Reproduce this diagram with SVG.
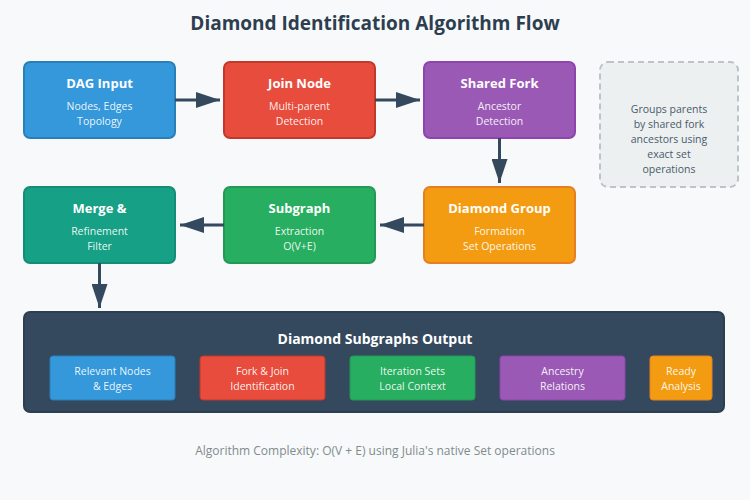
<svg xmlns="http://www.w3.org/2000/svg" width="750" height="500" viewBox="0 0 750 500">
<defs>
<style>
text{font-family:"Open Sans","Noto Sans","DejaVu Sans",sans-serif;text-anchor:middle}
.title{font-size:19px;font-weight:bold;fill:#2c3e50}
.h{font-size:13px;font-weight:bold;fill:#fff}
.s{font-size:10.5px;fill:#fff;fill-opacity:0.92}
.n{font-size:10.5px;fill:#4a5a6a}
.foot{font-size:12px;fill:#7f8c8d}
.box{stroke-width:2}
.conn{stroke:#34495e;stroke-width:3;fill:none}
</style>
<marker id="ah" markerWidth="24" markerHeight="16" refX="24" refY="8" orient="auto" markerUnits="userSpaceOnUse">
<path d="M0,0 L24,8 L0,16 Z" fill="#34495e"/>
</marker>
</defs>
<rect width="750" height="500" fill="#f8f9fa"/>
<text class="title" x="375" y="30">Diamond Identification Algorithm Flow</text>

<g id="dag-input">
<rect class="box" x="24" y="62" width="151" height="76" rx="6" fill="#3498db" stroke="#2980b9"/>
<text class="h" x="99.5" y="88">DAG Input</text>
<text class="s" x="99.5" y="110">Nodes, Edges</text>
<text class="s" x="99.5" y="125">Topology</text>
</g>
<g id="join-node">
<rect class="box" x="224" y="62" width="151" height="76" rx="6" fill="#e74c3c" stroke="#c0392b"/>
<text class="h" x="299.5" y="88">Join Node</text>
<text class="s" x="299.5" y="110">Multi-parent</text>
<text class="s" x="299.5" y="125">Detection</text>
</g>
<g id="shared-fork">
<rect class="box" x="424" y="62" width="151" height="76" rx="6" fill="#9b59b6" stroke="#8e44ad"/>
<text class="h" x="499.5" y="88">Shared Fork</text>
<text class="s" x="499.5" y="110">Ancestor</text>
<text class="s" x="499.5" y="125">Detection</text>
</g>
<g id="note">
<rect x="600" y="62" width="138" height="125" rx="8" fill="#ecf0f1" stroke="#bdc3c7" stroke-width="2" stroke-dasharray="6,4"/>
<text class="n" x="669" y="113">Groups parents</text>
<text class="n" x="669" y="128">by shared fork</text>
<text class="n" x="669" y="143">ancestors using</text>
<text class="n" x="669" y="158">exact set</text>
<text class="n" x="669" y="173">operations</text>
</g>
<g id="merge">
<rect class="box" x="24" y="187" width="151" height="76" rx="6" fill="#16a085" stroke="#138d75"/>
<text class="h" x="99.5" y="213">Merge &amp;</text>
<text class="s" x="99.5" y="235">Refinement</text>
<text class="s" x="99.5" y="250">Filter</text>
</g>
<g id="subgraph">
<rect class="box" x="224" y="187" width="151" height="76" rx="6" fill="#27ae60" stroke="#229954"/>
<text class="h" x="299.5" y="213">Subgraph</text>
<text class="s" x="299.5" y="235">Extraction</text>
<text class="s" x="299.5" y="250">O(V+E)</text>
</g>
<g id="diamond-group">
<rect class="box" x="424" y="187" width="151" height="76" rx="6" fill="#f39c12" stroke="#e67e22"/>
<text class="h" x="499.5" y="213">Diamond Group</text>
<text class="s" x="499.5" y="235">Formation</text>
<text class="s" x="499.5" y="250">Set Operations</text>
</g>

<g id="connectors">
<line class="conn" x1="175" y1="100" x2="220" y2="100" marker-end="url(#ah)"/>
<line class="conn" x1="375" y1="100" x2="420" y2="100" marker-end="url(#ah)"/>
<line class="conn" x1="499.5" y1="138" x2="499.5" y2="183" marker-end="url(#ah)"/>
<line class="conn" x1="424" y1="225" x2="380" y2="225" marker-end="url(#ah)"/>
<line class="conn" x1="224" y1="225" x2="180" y2="225" marker-end="url(#ah)"/>
<line class="conn" x1="99.5" y1="263" x2="99.5" y2="308" marker-end="url(#ah)"/>
</g>

<g id="output">
<rect x="24" y="312" width="700" height="100" rx="6" fill="#34495e" stroke="#2c3e50" stroke-width="2"/>
<text class="h" x="375" y="344" style="font-size:14px">Diamond Subgraphs Output</text>
<g id="out-nodes">
<rect x="50" y="356" width="125" height="44" rx="3" fill="#3498db" stroke="#2980b9" stroke-width="1"/>
<text class="s" x="112.5" y="375">Relevant Nodes</text>
<text class="s" x="112.5" y="390">&amp; Edges</text>
</g>
<g id="out-forkjoin">
<rect x="200" y="356" width="125" height="44" rx="3" fill="#e74c3c" stroke="#c0392b" stroke-width="1"/>
<text class="s" x="262.5" y="375">Fork &amp; Join</text>
<text class="s" x="262.5" y="390">Identification</text>
</g>
<g id="out-iteration">
<rect x="350" y="356" width="125" height="44" rx="3" fill="#27ae60" stroke="#229954" stroke-width="1"/>
<text class="s" x="412.5" y="375">Iteration Sets</text>
<text class="s" x="412.5" y="390">Local Context</text>
</g>
<g id="out-ancestry">
<rect x="500" y="356" width="125" height="44" rx="3" fill="#9b59b6" stroke="#8e44ad" stroke-width="1"/>
<text class="s" x="562.5" y="375">Ancestry</text>
<text class="s" x="562.5" y="390">Relations</text>
</g>
<g id="out-ready">
<rect x="650" y="356" width="62" height="44" rx="3" fill="#f39c12" stroke="#e67e22" stroke-width="1"/>
<text class="s" x="681" y="375">Ready</text>
<text class="s" x="681" y="390">Analysis</text>
</g>
</g>

<text class="foot" x="375" y="455">Algorithm Complexity: O(V + E) using Julia's native Set operations</text>
</svg>
